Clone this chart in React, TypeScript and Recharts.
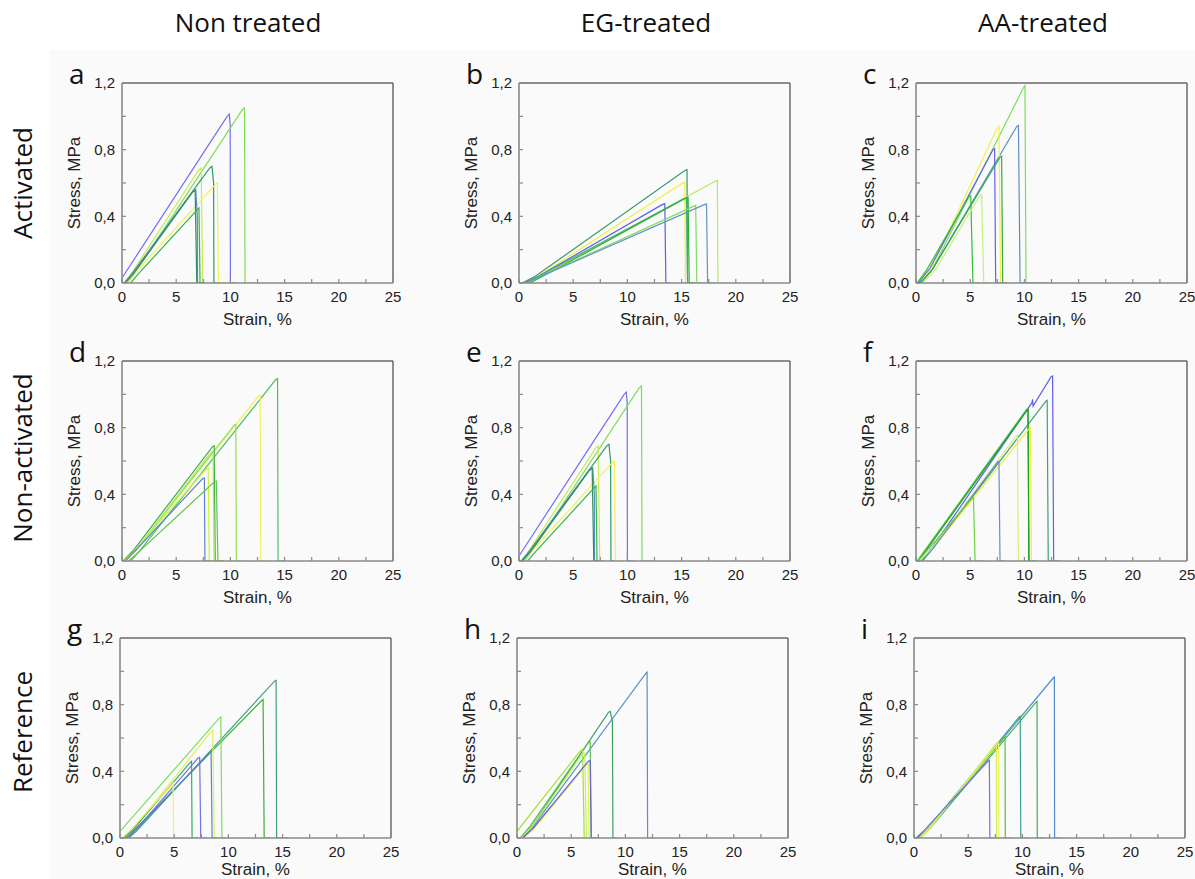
import React from 'react';
import { LineChart, Line, XAxis, YAxis, ReferenceLine, Label } from 'recharts';

type Pt = [number, number];

// ---------- Panel a (Non treated / Activated) ----------
const a1: Pt[] = [[0, 0.03], [9.7, 1.0], [9.9, 1.013], [9.98, 0.95], [10.0, 0], [10.6, 0]];
const a2: Pt[] = [[0.5, 0], [1.2, 0.06], [11.1, 1.04], [11.3, 1.05], [11.35, 0], [12.3, 0]];
const a3: Pt[] = [[0.2, 0], [1.0, 0.07], [7.1, 0.68], [7.3, 0.69], [7.45, 0], [8.0, 0]];
const a4: Pt[] = [[0.3, 0], [1.2, 0.08], [8.1, 0.69], [8.3, 0.7], [8.45, 0.6], [8.48, 0], [9.0, 0]];
const a5: Pt[] = [[0.4, 0], [1.2, 0.06], [8.6, 0.59], [8.8, 0.6], [8.9, 0], [9.5, 0]];
const a6: Pt[] = [[0.2, 0], [1.0, 0.06], [6.6, 0.555], [6.8, 0.56], [6.95, 0.4], [6.97, 0], [7.5, 0]];
const a7: Pt[] = [[0.3, 0], [1.0, 0.05], [6.5, 0.545], [6.75, 0.555], [6.9, 0], [7.4, 0]];
const a8: Pt[] = [[0.8, 0], [1.3, 0.04], [6.95, 0.44], [7.1, 0.45], [7.2, 0], [7.6, 0]];
const colorsA = ['#6f6ff2', '#7fdc5a', '#c6ec54', '#2f9a6e', '#f2f25a', '#5b8ec4', '#2d8f5f', '#36b34a'];

// ---------- Panel b (EG-treated / Activated) ----------
const b1: Pt[] = [[0.3, 0], [1.5, 0.04], [15.3, 0.675], [15.5, 0.68], [15.55, 0], [16.2, 0]];
const b2: Pt[] = [[0.5, 0], [1.5, 0.03], [15.1, 0.6], [15.3, 0.606], [15.35, 0], [15.9, 0]];
const b3: Pt[] = [[0.8, 0], [2.0, 0.04], [18.1, 0.61], [18.3, 0.616], [18.35, 0], [18.9, 0]];
const b4: Pt[] = [[0.5, 0], [1.8, 0.04], [13.2, 0.47], [13.45, 0.476], [13.55, 0], [14.0, 0]];
const b5: Pt[] = [[0.5, 0], [1.8, 0.04], [15.2, 0.505], [15.45, 0.51], [15.55, 0], [16.0, 0]];
const b6: Pt[] = [[1.0, 0], [2.2, 0.04], [15.4, 0.51], [15.6, 0.514], [15.7, 0], [16.3, 0]];
const b7: Pt[] = [[0.8, 0], [2.0, 0.04], [16.1, 0.46], [16.3, 0.466], [16.4, 0], [17.0, 0]];
const b8: Pt[] = [[0.6, 0], [2.0, 0.04], [17.1, 0.47], [17.3, 0.474], [17.4, 0], [18.0, 0]];
const colorsB = ['#3a9a68', '#f0ef3c', '#b5ec5e', '#5f5fe6', '#3cb080', '#2fae36', '#80dd60', '#6392c4'];

// ---------- Panel c (AA-treated / Activated) ----------
const c1: Pt[] = [[0.5, 0], [1.5, 0.08], [9.9, 1.17], [10.05, 1.184], [10.15, 0], [11.0, 0]];
const c2: Pt[] = [[0.3, 0], [1.5, 0.08], [9.3, 0.94], [9.45, 0.946], [9.6, 0], [12.3, 0]];
const c3: Pt[] = [[0.4, 0], [1.5, 0.1], [7.5, 0.93], [7.65, 0.94], [7.8, 0], [8.5, 0]];
const c4: Pt[] = [[0.2, 0], [1.3, 0.09], [7.1, 0.8], [7.25, 0.806], [7.35, 0], [7.9, 0]];
const c5: Pt[] = [[0.4, 0], [1.5, 0.08], [7.75, 0.755], [7.9, 0.76], [8.0, 0], [8.6, 0]];
const c6: Pt[] = [[0.1, 0], [1.0, 0.08], [4.9, 0.52], [5.05, 0.522], [5.25, 0], [5.8, 0]];
const c7: Pt[] = [[0.6, 0], [1.8, 0.08], [5.9, 0.525], [6.05, 0.53], [6.25, 0], [6.8, 0]];
const colorsC = ['#7ede5c', '#5f8fc2', '#f2ef4a', '#6464e8', '#3aa84a', '#34c034', '#c5ef7a'];

// ---------- Panel d (Non treated / Non-activated) ----------
const d1: Pt[] = [[0.8, 0], [1.5, 0.05], [14.2, 1.09], [14.35, 1.094], [14.4, 0], [15.0, 0]];
const d2: Pt[] = [[0.3, 0], [1.2, 0.06], [12.6, 0.99], [12.75, 0.994], [12.8, 0], [13.5, 0]];
const d3: Pt[] = [[0.2, 0], [1.2, 0.06], [10.35, 0.815], [10.5, 0.818], [10.55, 0], [11.2, 0]];
const d4: Pt[] = [[0.1, 0], [1.0, 0.06], [8.35, 0.686], [8.5, 0.69], [8.6, 0], [9.2, 0]];
const d5: Pt[] = [[0.2, 0], [1.2, 0.06], [8.25, 0.655], [8.4, 0.66], [8.5, 0], [9.0, 0]];
const d6: Pt[] = [[0.2, 0], [1.0, 0.05], [7.8, 0.555], [7.95, 0.558], [8.05, 0], [8.6, 0]];
const d7: Pt[] = [[0.3, 0], [1.2, 0.06], [7.45, 0.495], [7.6, 0.498], [7.65, 0], [8.2, 0]];
const d8: Pt[] = [[0.6, 0], [1.3, 0.04], [8.55, 0.477], [8.7, 0.48], [8.85, 0], [9.4, 0]];
const colorsD = ['#4fbe62', '#f0f05e', '#92e04f', '#3fae44', '#a8e86a', '#d2ef40', '#5a85d2', '#62c44a'];

// ---------- Panel f (AA-treated / Non-activated) ----------
const f1: Pt[] = [[0.5, 0], [1.5, 0.08], [10.7, 0.95], [10.75, 0.97], [10.8, 0.93], [12.45, 1.105], [12.6, 1.11], [12.7, 0], [13.3, 0]];
const f2: Pt[] = [[0.6, 0], [1.5, 0.07], [12.0, 0.96], [12.1, 0.964], [12.2, 0], [12.8, 0]];
const f3: Pt[] = [[0.1, 0], [1.0, 0.08], [10.2, 0.91], [10.3, 0.914], [10.45, 0], [11.0, 0]];
const f4: Pt[] = [[0.2, 0], [1.0, 0.07], [10.25, 0.905], [10.35, 0.91], [10.4, 0], [11.0, 0]];
const f5: Pt[] = [[0.4, 0], [1.5, 0.07], [10.45, 0.795], [10.55, 0.8], [10.65, 0], [11.3, 0]];
const f6: Pt[] = [[0.3, 0], [1.4, 0.07], [9.25, 0.75], [9.35, 0.754], [9.45, 0], [10.0, 0]];
const f7: Pt[] = [[0.5, 0], [1.5, 0.07], [7.55, 0.595], [7.65, 0.598], [7.75, 0], [8.3, 0]];
const f8: Pt[] = [[0.2, 0], [1.0, 0.06], [5.2, 0.378], [5.3, 0.38], [5.45, 0], [6.1, 0]];
const colorsF = ['#5e5ef0', '#3f9f7f', '#45c245', '#1ea01e', '#f2ee3e', '#d3f07e', '#6290d2', '#72d044'];

// ---------- Panel g (Non treated / Reference) ----------
const g1: Pt[] = [[0.8, 0], [1.5, 0.04], [14.3, 0.944], [14.4, 0.946], [14.45, 0], [15.5, 0]];
const g2: Pt[] = [[0.5, 0], [1.5, 0.06], [13.1, 0.826], [13.2, 0.83], [13.3, 0], [13.9, 0]];
const g3: Pt[] = [[0, 0.04], [9.2, 0.722], [9.3, 0.726], [9.4, 0], [10.0, 0]];
const g4: Pt[] = [[0.3, 0], [1.2, 0.05], [8.45, 0.642], [8.55, 0.646], [8.7, 0], [9.3, 0]];
const g5: Pt[] = [[0.7, 0], [1.5, 0.05], [8.3, 0.515], [8.4, 0.52], [8.5, 0], [9.0, 0]];
const g6: Pt[] = [[0.6, 0], [1.5, 0.05], [7.2, 0.48], [7.35, 0.484], [7.45, 0], [8.0, 0]];
const g7: Pt[] = [[0.3, 0], [1.2, 0.05], [6.5, 0.455], [6.6, 0.46], [6.65, 0], [7.2, 0]];
const g8: Pt[] = [[0.2, 0], [1.0, 0.05], [4.85, 0.325], [4.9, 0.33], [4.95, 0], [5.6, 0]];
const colorsG = ['#3f9f80', '#3cae3c', '#7fdd5f', '#e0f05e', '#5a84c2', '#7272ea', '#30b05e', '#f2f064'];

// ---------- Panel h (EG-treated / Reference) ----------
const h1: Pt[] = [[0.5, 0], [1.5, 0.07], [11.95, 0.994], [12.0, 0.996], [12.05, 0], [12.6, 0]];
const h2: Pt[] = [[0.5, 0], [1.5, 0.08], [8.45, 0.755], [8.6, 0.76], [8.8, 0.7], [8.85, 0], [9.3, 0]];
const h3: Pt[] = [[0.3, 0], [1.2, 0.07], [6.6, 0.575], [6.75, 0.576], [6.85, 0], [7.3, 0]];
const h4: Pt[] = [[0, 0.04], [5.9, 0.528], [6.05, 0.53], [6.2, 0], [6.8, 0]];
const h5: Pt[] = [[0.4, 0], [1.3, 0.06], [6.1, 0.51], [6.25, 0.51], [6.4, 0], [7.0, 0]];
const h6: Pt[] = [[0.6, 0], [1.5, 0.05], [6.4, 0.44], [6.55, 0.445], [6.65, 0], [7.1, 0]];
const h7: Pt[] = [[0.5, 0], [1.5, 0.06], [6.6, 0.462], [6.75, 0.464], [6.85, 0], [7.4, 0]];
const colorsH = ['#5a90c8', '#3fa062', '#50c050', '#a2e040', '#c2f062', '#eeee44', '#6262e2'];

// ---------- Panel i (AA-treated / Reference) ----------
const i1: Pt[] = [[0.3, 0], [1.2, 0.05], [12.9, 0.964], [12.95, 0.966], [12.97, 0], [13.6, 0]];
const i2: Pt[] = [[0.5, 0], [1.5, 0.06], [11.3, 0.818], [11.35, 0.82], [11.37, 0], [12.0, 0]];
const i3: Pt[] = [[0.3, 0], [1.2, 0.05], [9.7, 0.726], [9.8, 0.73], [9.85, 0], [10.4, 0]];
const i4: Pt[] = [[0.5, 0], [1.4, 0.06], [8.35, 0.606], [8.4, 0.61], [8.42, 0], [9.0, 0]];
const i5: Pt[] = [[0.5, 0], [1.4, 0.06], [7.75, 0.566], [7.8, 0.57], [7.82, 0], [8.4, 0]];
const i6: Pt[] = [[0.6, 0], [1.5, 0.06], [7.5, 0.56], [7.6, 0.566], [7.62, 0], [8.2, 0]];
const i7: Pt[] = [[0.2, 0], [1.0, 0.05], [6.85, 0.462], [6.95, 0.466], [7.0, 0], [7.6, 0]];
const colorsI = ['#5088d2', '#40b050', '#40a090', '#52c240', '#f2f060', '#d0ef60', '#7070f0'];

// panel e repeats the curves of panel a in the source figure
const panelA = [a1, a2, a3, a4, a5, a6, a7, a8];
const panelB = [b1, b2, b3, b4, b5, b6, b7, b8];
const panelC = [c1, c2, c3, c4, c5, c6, c7];
const panelD = [d1, d2, d3, d4, d5, d6, d7, d8];
const panelE = panelA;
const panelF = [f1, f2, f3, f4, f5, f6, f7, f8];
const panelG = [g1, g2, g3, g4, g5, g6, g7, g8];
const panelH = [h1, h2, h3, h4, h5, h6, h7];
const panelI = [i1, i2, i3, i4, i5, i6, i7];

const columnTitles = ['Non treated', 'EG-treated', 'AA-treated'];
const rowTitles = ['Activated', 'Non-activated', 'Reference'];
const xTicks = [0, 2.5, 5, 7.5, 10, 12.5, 15, 17.5, 20, 22.5, 25];
const yTicks = [0, 0.2, 0.4, 0.6, 0.8, 1.0, 1.2];
const xTitle = 'Strain, %';
const yTitle = 'Stress, MPa';

// layout
const PW = 271;
const PH = 200;
const YW = 60;
const MT = 10;
const XH = 45;
const panelDefs = [
  { letter: 'a', curves: panelA, colors: colorsA, left: 122, top: 83, xOff: 3 },
  { letter: 'b', curves: panelB, colors: colorsB, left: 519, top: 83, xOff: 3 },
  { letter: 'c', curves: panelC, colors: colorsC, left: 916, top: 83, xOff: 3 },
  { letter: 'd', curves: panelD, colors: colorsD, left: 122, top: 361, xOff: 3 },
  { letter: 'e', curves: panelE, colors: colorsA, left: 519, top: 361, xOff: 3 },
  { letter: 'f', curves: panelF, colors: colorsF, left: 916, top: 361, xOff: 3 },
  { letter: 'g', curves: panelG, colors: colorsG, left: 120, top: 638, xOff: 8 },
  { letter: 'h', curves: panelH, colors: colorsH, left: 517, top: 638, xOff: 8 },
  { letter: 'i', curves: panelI, colors: colorsI, left: 914, top: 638, xOff: 8 },
];
const colCenters = [248, 646, 1043];
const rowCenters = [183, 458, 732];

const fmtY = (v: number) => (Math.round(v * 10) % 4 === 0 ? v.toFixed(1).replace('.', ',') : '');
const fmtX = (v: number) => (v % 5 === 0 ? String(v) : '');

const axisColor = '#8a8a8a';
const sans = 'Liberation Sans, Arial, sans-serif';
const tickFont = { fontFamily: sans, fontSize: 15, fill: '#222' };

function Panel({ curves, colors, xOff }: { curves: Pt[][]; colors: string[]; xOff: number }) {
  return (
    <LineChart
      width={YW + PW + 12}
      height={MT + PH + XH}
      margin={{ top: MT, right: 12, left: 0, bottom: 0 }}
    >
      <XAxis
        type="number"
        dataKey="x"
        domain={[0, 25]}
        ticks={xTicks}
        interval={0}
        tickFormatter={fmtX}
        height={XH}
        tickSize={-4}
        tickMargin={12}
        axisLine={{ stroke: axisColor, strokeWidth: 1.6 }}
        tickLine={{ stroke: axisColor, strokeWidth: 1.2 }}
        tick={tickFont}
        allowDataOverflow
      >
        <Label value={xTitle} position="insideBottom" offset={xOff} fontSize={17} fontFamily={sans} fill="#222" />
      </XAxis>
      <YAxis
        type="number"
        dataKey="y"
        domain={[0, 1.2]}
        ticks={yTicks}
        interval={0}
        tickFormatter={fmtY}
        width={YW}
        tickSize={-4}
        tickMargin={11}
        axisLine={{ stroke: axisColor, strokeWidth: 1.6 }}
        tickLine={{ stroke: axisColor, strokeWidth: 1.2 }}
        tick={tickFont}
        allowDataOverflow
      >
        <Label
          value={yTitle}
          angle={-90}
          position="insideLeft"
          offset={12}
          fontSize={17}
          fontFamily={sans}
          fill="#222"
          style={{ textAnchor: 'middle' }}
        />
      </YAxis>
      <ReferenceLine y={1.2} stroke="#6a6a6a" strokeWidth={1.3} />
      <ReferenceLine x={25} stroke="#555" strokeWidth={1.3} />
      {curves.map((c, k) => (
        <Line
          key={k}
          data={c.map(([x, y]) => ({ x, y }))}
          dataKey="y"
          type="linear"
          stroke={colors[k]}
          strokeWidth={1.2}
          dot={false}
          activeDot={false}
          isAnimationActive={false}
        />
      ))}
    </LineChart>
  );
}

const bigFont = { fontFamily: 'Open Sans, Noto Sans, sans-serif', fontSize: 26, color: '#111' };

export default function App() {
  return (
    <div style={{ position: 'absolute', left: 0, top: 0, width: 1195, height: 879, background: '#fff', overflow: 'hidden' }}>
      <div style={{ position: 'absolute', left: 50, top: 50, width: 1145, height: 829, background: '#fafafa' }} />
      {columnTitles.map((t, k) => (
        <div
          key={t}
          style={{ ...bigFont, position: 'absolute', left: colCenters[k] - 150, width: 300, top: 5, textAlign: 'center', lineHeight: '34px' }}
        >
          {t}
        </div>
      ))}
      {rowTitles.map((t, k) => (
        <div
          key={t}
          style={{
            ...bigFont,
            position: 'absolute',
            left: 22 - 150,
            top: rowCenters[k] - 17,
            width: 300,
            height: 34,
            lineHeight: '34px',
            textAlign: 'center',
            transform: 'rotate(-90deg)',
          }}
        >
          {t}
        </div>
      ))}
      {panelDefs.map((p) => (
        <React.Fragment key={p.letter}>
          <div style={{ position: 'absolute', left: p.left - YW, top: p.top - MT }}>
            <Panel curves={p.curves} colors={p.colors} xOff={p.xOff} />
          </div>
          <div style={{ ...bigFont, fontSize: 28, position: 'absolute', left: p.left - 53, top: p.top - 27, lineHeight: '34px' }}>
            {p.letter}
          </div>
        </React.Fragment>
      ))}
    </div>
  );
}
